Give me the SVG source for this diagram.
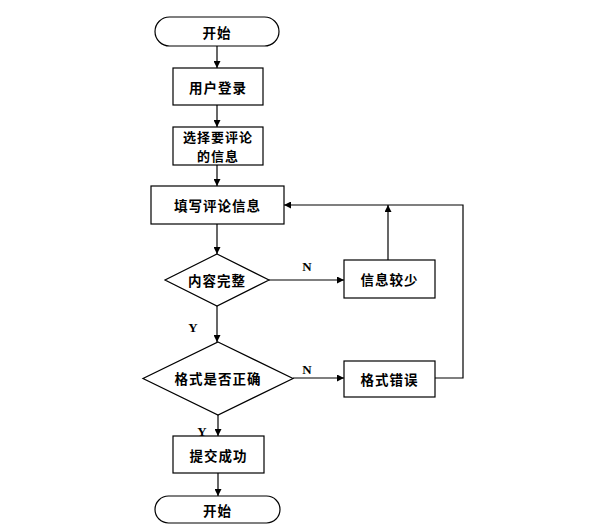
<svg xmlns="http://www.w3.org/2000/svg" width="610" height="529" viewBox="0 0 610 529">
<defs>
<marker id="arr" viewBox="0 0 10 10" refX="10" refY="5" markerWidth="7" markerHeight="7" markerUnits="userSpaceOnUse" orient="auto">
<path d="M0,0 L10,5 L0,10 z" fill="#000"/>
</marker>
<style>
.s{fill:#fff;stroke:#000;stroke-width:1.2}
.t{font-family:"Noto Sans CJK SC",sans-serif;font-size:13.5px;font-weight:bold;text-anchor:middle;dominant-baseline:central;letter-spacing:1px;fill:#000}
.t2{font-size:13px}
.l{font-family:"Liberation Serif",serif;font-size:13px;font-weight:bold;text-anchor:middle;dominant-baseline:central;fill:#000}
.c{fill:none;stroke:#000;stroke-width:1.2}
</style>
</defs>
<rect width="610" height="529" fill="#fff"/>
<g id="connectors">
<path class="c" d="M217,46 V68" marker-end="url(#arr)"/>
<path class="c" d="M217,105 V127" marker-end="url(#arr)"/>
<path class="c" d="M217,165 V186" marker-end="url(#arr)"/>
<path class="c" d="M217,224 V254" marker-end="url(#arr)"/>
<path class="c" d="M269,280 H344" marker-end="url(#arr)"/>
<path class="c" d="M388,260 V205" marker-end="url(#arr)"/>
<path class="c" d="M217,306 V342" marker-end="url(#arr)"/>
<path class="c" d="M293,378 H344" marker-end="url(#arr)"/>
<path class="c" d="M435,378 H463 V205 H284" marker-end="url(#arr)"/>
<path class="c" d="M218,415 V436" marker-end="url(#arr)"/>
<path class="c" d="M218,473 V496" marker-end="url(#arr)"/>
<text class="l" x="307" y="266">N</text>
<text class="l" x="193" y="327">Y</text>
<text class="l" x="307" y="369">N</text>
<text class="l" x="202" y="431">Y</text>
</g>
<g id="start">
<rect class="s" x="155" y="17" width="124" height="29" rx="14.5"/>
<text class="t" x="217" y="32">开始</text>
</g>
<g id="login">
<rect class="s" x="173" y="68" width="90" height="37"/>
<text class="t" x="218" y="86.5">用户登录</text>
</g>
<g id="select">
<rect class="s" x="173" y="127" width="90" height="38"/>
<text class="t t2" x="218" y="136.5">选择要评论</text>
<text class="t t2" x="218" y="155.5">的信息</text>
</g>
<g id="fill">
<rect class="s" x="151" y="186" width="133" height="38"/>
<text class="t" x="217.5" y="205">填写评论信息</text>
</g>
<g id="complete">
<polygon class="s" points="217,254 269,280 217,306 165,280"/>
<text class="t" x="217" y="280">内容完整</text>
</g>
<g id="less">
<rect class="s" x="344" y="260" width="91" height="38"/>
<text class="t" x="389.5" y="279">信息较少</text>
</g>
<g id="format">
<polygon class="s" points="218,342 293,378.5 218,415 143,378.5"/>
<text class="t" x="218" y="378">格式是否正确</text>
</g>
<g id="formaterr">
<rect class="s" x="344" y="361" width="91" height="36"/>
<text class="t" x="389.5" y="378.5">格式错误</text>
</g>
<g id="submit">
<rect class="s" x="173" y="436" width="91" height="37"/>
<text class="t" x="218.5" y="454.5">提交成功</text>
</g>
<g id="end">
<rect class="s" x="155" y="496" width="125" height="27" rx="13.5"/>
<text class="t" x="217.5" y="509.5">开始</text>
</g>
</svg>
